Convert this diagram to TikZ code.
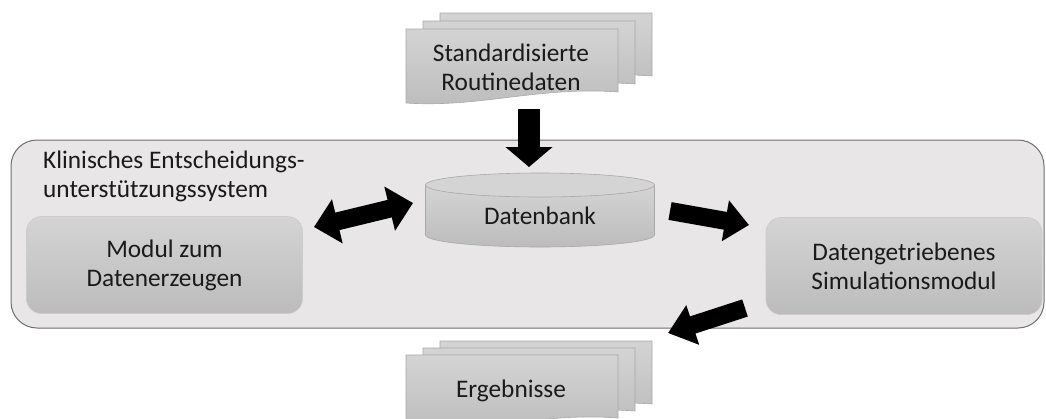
\documentclass[tikz,border=0pt]{standalone}
\usepackage{fontspec}
\setmainfont{Carlito}
\usetikzlibrary{arrows.meta}
\definecolor{boxfill}{HTML}{E8E6E6}
\definecolor{boxline}{HTML}{6E6E6E}
\definecolor{shtop}{HTML}{D4D4D4}
\definecolor{shbot}{HTML}{BCBCBC}
\definecolor{shline}{HTML}{A8A8A8}
\definecolor{txt}{HTML}{1A1A1A}
\tikzset{
  sysbox/.style={draw=boxline, line width=1pt, fill=boxfill, rounded corners=26pt,
    minimum width=1033pt, minimum height=188pt, inner sep=0pt},
  modbox/.style={draw=shtop!80!shline, line width=0.6pt, top color=shtop, bottom color=shbot,
    rounded corners=15pt, minimum width=276pt, minimum height=97pt, align=center,
    font=\fontsize{25.3pt}{29pt}\selectfont, text=txt},
  doclayer/.style={draw=shline, line width=0.6pt, top color=shtop, bottom color=shbot},
  lbl/.style={font=\fontsize{25.3pt}{29pt}\selectfont, text=txt, align=center, inner sep=0pt},
  blk/.style={line width=#1, draw=black, line cap=butt},
}
\newcommand\mydoc[2]{%
  \path[doclayer] (#1,#2) -- ++(212,0) -- ++(0,63)
    .. controls +(-78,-6) and +(74,5) .. ++(-212,11) -- cycle;}
\begin{document}
\begin{tikzpicture}[x=1pt,y=-1pt]
\useasboundingbox (0,0) rectangle (1046,418);
\clip (0,0) rectangle (1046,418);
% input documents
\mydoc{440}{13}
\mydoc{423}{21}
\mydoc{406}{29}
\node[lbl] (src) at (511,67) {Standardisierte\\Routinedaten};
% system container
\node[sysbox] (sys) at (527.5,234) {};
\node[lbl, align=left, anchor=north west] (syslbl) at (43,151) {Klinisches Entscheidungs-\\unterstützungssystem};
% modules
\node[modbox] (gen) at (164.5,265) {Modul zum\\Datenerzeugen};
\node[modbox] (sim) at (904,266) {Datengetriebenes\\Simulationsmodul};
% database cylinder
\path[draw=shline, line width=0.6pt, top color=shtop, bottom color=shbot]
  (425.5,185) -- (425.5,235)
  .. controls (425.5,241.6) and (476.8,247) .. (540,247)
  .. controls (603.2,247) and (654.5,241.6) .. (654.5,235)
  -- (654.5,185) -- cycle;
\path[draw=shline, line width=0.6pt, fill=shtop] (540,185) ellipse [x radius=114.5, y radius=12];
\node[lbl] (db) at (540,216) {Datenbank};
% results documents
\mydoc{440}{341}
\mydoc{423}{348}
\mydoc{406}{355}
\node[lbl] (res) at (511,391) {Ergebnisse};
% arrow end points
\coordinate (a1s) at (529,109);
\coordinate (a1e) at (529,167);
\coordinate (a2s) at (314,227);
\coordinate (a2e) at (413,203);
\coordinate (a3s) at (670,211);
\coordinate (a3e) at (749,225);
\coordinate (a4s) at (745,308);
\coordinate (a4e) at (668,333);
% block arrows
\draw[blk=22pt, -{Triangle[length=20pt,width=46pt]}] (a1s) -- (a1e);
\draw[blk=18pt, {Triangle[length=24pt,width=44pt]}-{Triangle[length=24pt,width=44pt]}] (a2s) -- (a2e);
\draw[blk=18pt, -{Triangle[length=24pt,width=40pt]}] (a3s) -- (a3e);
\draw[blk=18pt, -{Triangle[length=26pt,width=40pt]}] (a4s) -- (a4e);
\end{tikzpicture}
\end{document}
